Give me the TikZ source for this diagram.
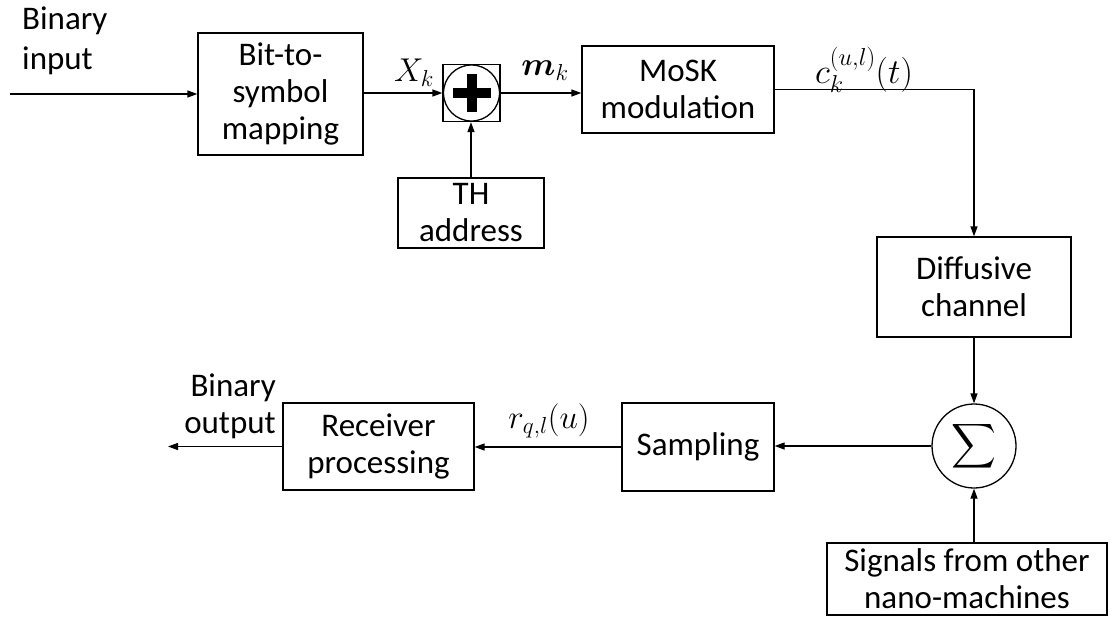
\documentclass[tikz,border=0pt]{standalone}
\usepackage{fix-cm}
\usepackage{amsmath}
\usepackage{graphicx}
\usepackage{fontspec}
\setmainfont{Carlito}
\usetikzlibrary{arrows.meta}

\begin{document}
\begin{tikzpicture}[x=1pt,y=-1pt,
    every node/.style={font=\fontsize{33}{37}\selectfont},
    blk/.style={shape=rectangle,draw,line width=1.3pt,align=center,inner sep=0pt},
    lbl/.style={inner sep=0pt},
    flow/.style={line width=1.3pt,-{Triangle[length=10pt,width=7pt]}}]
    \useasboundingbox (0,0) rectangle (1115,616);%
    \node[blk,minimum width=165pt,minimum height=122pt] (MAP) at (280.5,94) {Bit-to-\\symbol\\mapping};%
    \node[blk,minimum size=57pt] (SQ) at (471.5,93) {};%
    \node[shape=circle,draw,line width=1.3pt,minimum size=56pt,inner sep=0pt,
      path picture={\draw[line width=10pt] ([xshift=-19pt]path picture bounding box.center) -- ([xshift=19pt]path picture bounding box.center);
        \draw[line width=10pt] ([yshift=-19pt]path picture bounding box.center) -- ([yshift=19pt]path picture bounding box.center);}] (ADD) at (SQ) {};%
    \node[blk,minimum width=146pt,minimum height=70pt] (TH) at (471,213) {TH\\address};%
    \node[blk,minimum width=192pt,minimum height=87pt] (MOD) at (678,89.5) {MoSK\\modulation};%
    \node[blk,minimum width=194pt,minimum height=100pt] (CHAN) at (974,287) {Diffusive\\channel};%
    \node[shape=circle,draw,line width=1.3pt,minimum size=84pt,inner sep=0pt] (SUM) at (974,446) {\scalebox{1.25}{$\displaystyle\sum$}};%
    \node[blk,minimum width=280pt,minimum height=72pt] (OTH) at (967,579) {Signals from other\\nano-machines};%
    \node[blk,minimum width=152pt,minimum height=88pt] (SAMP) at (698,447) {Sampling};%
    \node[blk,minimum width=191pt,minimum height=87pt] (RECV) at (378.5,446.5) {Receiver\\processing};%
    \coordinate (IN) at (10,94);%
    \coordinate (OUT) at (168,447);%

    \node[lbl,align=left,anchor=north west,font=\fontsize{33}{40}\selectfont] (BIN) at (22,7) {Binary\\input};%
    \node[lbl,align=right,anchor=north east] (BOUT) at (276,374) {Binary\\output};%
    \node[lbl] (XK) at (414,73) {$X_k$};%
    \node[lbl] (MK) at (545,71) {$\boldsymbol{m}_k$};%
    \node[lbl,font=\fontsize{35}{37}\selectfont] (CK) at (864,70) {$c_k^{(u,l)}(t)$};%
    \node[lbl] (RQ) at (549,421) {$r_{q,l}(u)$};%

    \draw[flow] (IN) -- (IN -| MAP.west);%
    \draw[flow] (MAP.east |- SQ) -- (SQ.west);%
    \draw[flow] (TH.north) -- (TH.north |- SQ.south);%
    \draw[flow] (SQ.east) -- (SQ.east -| MOD.west);%
    \draw[flow] (MOD.east) -| (CHAN.north);%
    \draw[flow] (CHAN.south) -- (SUM.north);%
    \draw[flow] (OTH.north -| SUM) -- (SUM.south);%
    \draw[flow] (SUM.west) -- (SUM.west -| SAMP.east);%
    \draw[flow] (SAMP.west) -- (SAMP.west -| RECV.east);%
    \draw[flow] (RECV.west) -- (RECV.west -| OUT);%
\end{tikzpicture}
\end{document}
